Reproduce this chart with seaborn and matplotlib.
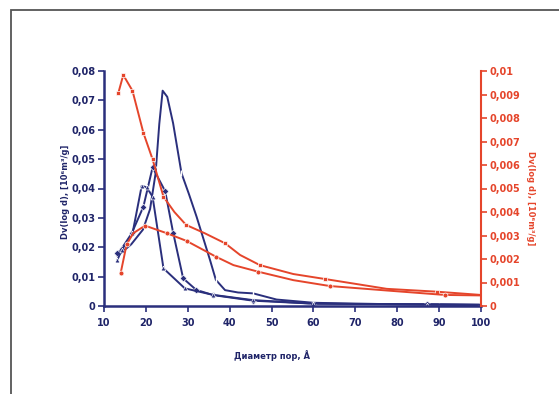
import matplotlib
matplotlib.use("Agg")
import matplotlib.pyplot as plt
import seaborn as sns
from matplotlib.patches import Rectangle
from matplotlib.ticker import FixedLocator, FixedFormatter

# ---- data ----
x_b1 = [13.2, 16.5, 19.3, 21.0, 22.3, 23.2, 24.0, 25.1, 26.5, 28.5, 30.3, 32.1, 35.3, 36.7, 38.9, 42.0, 45.6, 51.2, 60.0, 70.0, 80.0, 90.0, 100.0]
y_b1 = [0.017, 0.021, 0.026, 0.033, 0.045, 0.062, 0.0733, 0.0712, 0.0622, 0.0452, 0.038, 0.0304, 0.0157, 0.0089, 0.0054, 0.0046, 0.0043, 0.0022, 0.0011, 0.0008, 0.0006, 0.0005, 0.0004]

x_b2 = [13.2, 14.2, 16.6, 19.4, 21.6, 24.6, 26.5, 28.9, 32.0, 36.1, 45.6, 60.0, 87.0, 100.0]
y_b2 = [0.0179, 0.0195, 0.0247, 0.0338, 0.0472, 0.0391, 0.025, 0.0094, 0.0055, 0.0037, 0.0018, 0.0008, 0.0006, 0.0004]

x_b3 = [13.2, 14.2, 16.8, 19.0, 20.2, 21.6, 24.2, 29.3, 36.0, 45.6, 60.0, 87.0, 100.0]
y_b3 = [0.0157, 0.019, 0.0247, 0.0409, 0.0404, 0.0372, 0.0128, 0.006, 0.0038, 0.002, 0.0008, 0.0005, 0.0004]

x_rA = [13.4, 14.6, 16.8, 19.4, 21.6, 24.2, 26.8, 29.6, 34.0, 38.9, 42.5, 47.2, 55.2, 62.7, 77.5, 89.4, 100.0]
y_rA = [0.00905, 0.00983, 0.00916, 0.00737, 0.00624, 0.00465, 0.0040, 0.00345, 0.0031, 0.00267, 0.00217, 0.00174, 0.00136, 0.00115, 0.00073, 0.00061, 0.00047]

x_rB = [14.0, 15.4, 17.0, 19.8, 25.1, 29.7, 36.7, 40.9, 46.8, 55.2, 63.9, 77.5, 91.4, 100.0]
y_rB = [0.00142, 0.00262, 0.0031, 0.00342, 0.00309, 0.00277, 0.0021, 0.00174, 0.00146, 0.0011, 0.00085, 0.00066, 0.00047, 0.00045]

x_ticks = [10, 20, 30, 40, 50, 60, 70, 80, 90, 100]
x_ticklabels = ["10", "20", "30", "40", "50", "60", "70", "80", "90", "100"]
yl_ticks = [0, 0.01, 0.02, 0.03, 0.04, 0.05, 0.06, 0.07, 0.08]
yl_ticklabels = ["0", "0,01", "0,02", "0,03", "0,04", "0,05", "0,06", "0,07", "0,08"]
yr_ticks = [0, 0.001, 0.002, 0.003, 0.004, 0.005, 0.006, 0.007, 0.008, 0.009, 0.01]
yr_ticklabels = ["0", "0,001", "0,002", "0,003", "0,004", "0,005", "0,006", "0,007", "0,008", "0,009", "0,01"]

x_label = "Диаметр пор, Å"
y_label = "Dv(log d), [10⁶m³/g]"

# ---- style ----
sns.set_style("white")
plt.rcParams["font.family"] = ["DejaVu Sans"]

NAVY = "#2a2f7c"
NAVY_T = "#1f2468"
RED = "#e5452b"

fig = plt.figure(figsize=(5.59, 3.94), dpi=100)
fig.patch.set_facecolor("white")
ax = fig.add_axes([104/559, 1-306/394, (481-104)/559, (306-71)/394])
ax2 = ax.twinx()

lw = 1.4
sns.lineplot(x=x_b1, y=y_b1, ax=ax, sort=False, color=NAVY, lw=lw, marker="|", markersize=4,
             markeredgewidth=1.0, markevery=[0, 9, 13, 16, 21])
sns.lineplot(x=x_b2, y=y_b2, ax=ax, sort=False, color=NAVY, lw=lw, marker="D", markersize=3.5, markeredgewidth=0.5)
sns.lineplot(x=x_b3, y=y_b3, ax=ax, sort=False, color=NAVY, lw=lw, marker="^", markersize=3.5, markeredgewidth=0.5)

sns.lineplot(x=x_rA, y=y_rA, ax=ax2, sort=False, color=RED, lw=lw, marker="s", markersize=3.2,
             markeredgewidth=0.5, markevery=[0, 1, 2, 3, 4, 5, 7, 9, 11, 13, 15])
sns.lineplot(x=x_rB, y=y_rB, ax=ax2, sort=False, color=RED, lw=lw, marker="o", markersize=3.5,
             markeredgewidth=0.5, markevery=[0, 1, 3, 4, 5, 6, 8, 10, 12])

ax.set_xlim(10, 100)
ax.set_ylim(0, 0.08)
ax2.set_ylim(0, 0.01)

ax.xaxis.set_major_locator(FixedLocator(x_ticks))
ax.xaxis.set_major_formatter(FixedFormatter(x_ticklabels))
ax.yaxis.set_major_locator(FixedLocator(yl_ticks))
ax.yaxis.set_major_formatter(FixedFormatter(yl_ticklabels))
ax2.yaxis.set_major_locator(FixedLocator(yr_ticks))
ax2.yaxis.set_major_formatter(FixedFormatter(yr_ticklabels))

ax.spines["top"].set_visible(False)
ax2.spines["top"].set_visible(False)
ax.spines["right"].set_visible(False)
ax2.spines["left"].set_visible(False)
ax2.spines["bottom"].set_visible(False)
ax.spines["left"].set_color(NAVY)
ax.spines["left"].set_linewidth(1.8)
ax.spines["bottom"].set_color(NAVY)
ax.spines["bottom"].set_linewidth(1.8)
ax2.spines["right"].set_color(RED)
ax2.spines["right"].set_linewidth(1.5)

ax.tick_params(axis="x", direction="out", length=4, width=1.2, color=NAVY, labelcolor=NAVY_T, labelsize=7, pad=5, bottom=True)
ax.tick_params(axis="y", direction="out", length=4, width=1.2, color=NAVY, labelcolor=NAVY_T, labelsize=7, pad=2, left=True)
ax2.tick_params(axis="y", direction="out", length=4, width=1.2, color=RED, labelcolor=RED, labelsize=7, pad=2, right=True)
for lab in ax.get_xticklabels() + ax.get_yticklabels() + ax2.get_yticklabels():
    lab.set_fontweight("bold")

ax.set_xlabel("")
ax.set_ylabel("")
ax2.set_ylabel("")
fig.text(272/559, 1-356/394, x_label, ha="center", va="center", fontsize=6, fontweight="bold", color=NAVY_T)
fig.text(65/559, 1-192/394, y_label, ha="center", va="center", rotation=90, fontsize=6, fontweight="bold", color=NAVY_T)
fig.text(530/559, 1-198/394, y_label, ha="center", va="center", rotation=270, fontsize=6, fontweight="bold", color=RED)

ax.set_facecolor("none")
ax2.set_facecolor("none")

# outer frame
fig.patches.append(Rectangle((11/559, -0.1), 1.2, 1-10/394+0.1, transform=fig.transFigure,
                             fill=False, edgecolor="#555555", lw=1.3, zorder=0))

fig.savefig("out.png", dpi=100, facecolor="white")
